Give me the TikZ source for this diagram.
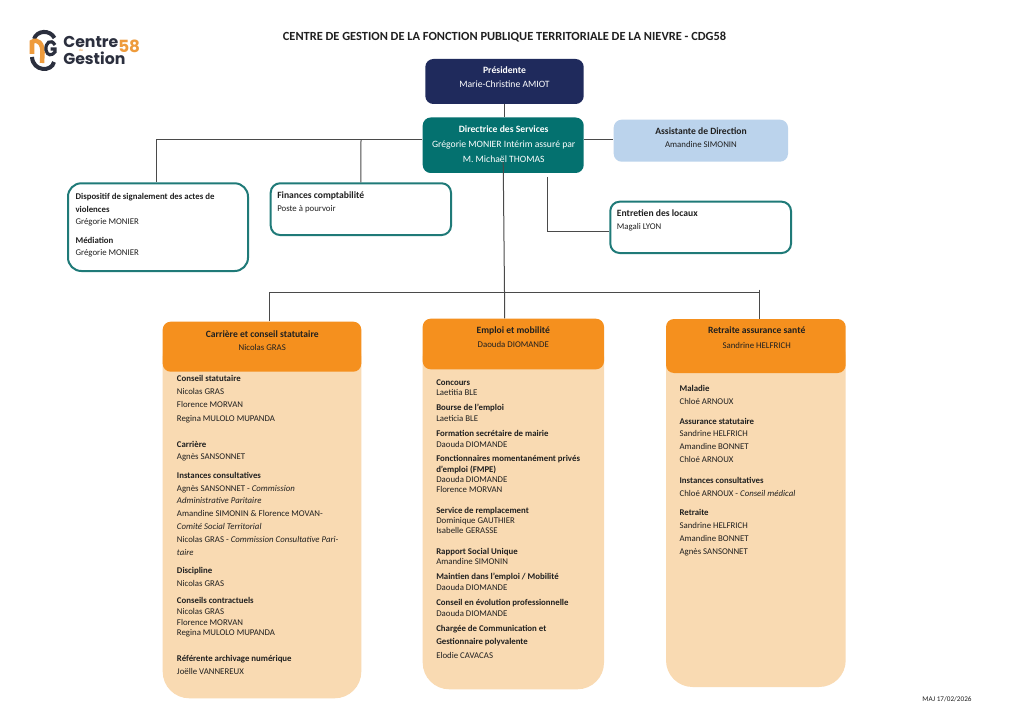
\documentclass[tikz,border=0pt]{standalone}
\usepackage{fontspec}
\setmainfont{Carlito}
\newfontfamily\logofont{Poppins}
\definecolor{navy}{HTML}{1F2A5C}
\definecolor{teal1}{HTML}{04716F}
\definecolor{tealline}{HTML}{1F7A78}
\definecolor{sky}{HTML}{BBD3EC}
\definecolor{orange1}{HTML}{F5901E}
\definecolor{peach}{HTML}{F9DAB2}
\definecolor{ink}{HTML}{202020}
\definecolor{wire}{HTML}{4A4A4A}
\definecolor{logoor}{HTML}{EE9B3C}
\definecolor{logonv}{HTML}{2B2F3E}
\newcounter{tn}
\tikzset{
  x=0.75pt,y=-0.75pt,
  px/.style={font=\fontsize{6.6pt}{8pt}\selectfont},
  lab/.style={inner sep=0pt,anchor=base west,text=ink,px},
  clab/.style={inner sep=0pt,anchor=base,px},
  wirel/.style={draw=wire,line width=0.75pt},
  solid box/.style={inner sep=0pt,draw=none},
  card/.style={inner sep=0pt,draw=tealline,line width=1.5pt,fill=white},
  logotext/.style={inner sep=0pt,anchor=base west,text=logonv,font=\fontsize{11.8pt}{12pt}\logofont\bfseries},
}
\newcommand\bighead{\fontsize{7.2pt}{8pt}\selectfont\bfseries}
\newcommand\wsz{\fontsize{7.25pt}{8pt}\selectfont}
% box: name, style, x1, y1, x2, y2
\newcommand\bx[6]{\node[#2,minimum width={(#5-#3)*0.75pt},minimum height={(#6-#4)*0.75pt}] (#1) at ({(#3+#5)/2},{(#4+#6)/2}) {};}
% left text line: x, y(centre), text
\newcommand\tl[3]{\stepcounter{tn}\node[lab] (l\arabic{tn}) at (#1,#2+3) {#3};}
\newcommand\tb[3]{\tl{#1}{#2}{\textbf{#3}}}
% centred line: colour, x, y, text
\newcommand\tc[4]{\stepcounter{tn}\node[clab,text=#1] (l\arabic{tn}) at (#2,#3+3) {#4};}
\begin{document}
\begin{tikzpicture}
\useasboundingbox (0,0) rectangle (1024,713);
\fill[white] (0,0) rectangle (1024,713);

% title
\node[inner sep=0pt,text=ink,font=\fontsize{9.3pt}{10pt}\selectfont\bfseries] (title) at (504.5,37.5) {CENTRE DE GESTION DE LA FONCTION PUBLIQUE TERRITORIALE DE LA NIEVRE - CDG58};
\node[inner sep=0pt,text=ink,font=\fontsize{5.4pt}{6pt}\selectfont] (maj) at (947,699.5) {MAJ 17/02/2026};

% logo
\draw[logonv,line width=3pt] (34,39) .. controls (37,30) and (50,29.5) .. (54.5,38);
\draw[logonv,line width=3pt] (32,57) .. controls (33,72) and (52,72) .. (54,62);
\draw[logoor,line width=3.4pt] (32,54) -- (32,42) .. controls (38,38) and (43,44) .. (42.5,53) -- (42,63);
\draw[logonv,line width=2.4pt] (55,45) .. controls (51,38) and (45,43) .. (46,50) .. controls (47,56) and (52,56) .. (55,52) -- (55,49) -- (50.5,49);
\node[logotext] (lg1) at (63,47.5) {Centre};
\node[logotext] (lg2) at (63,65) {Gestion};
\node[logotext,text=logoor,font=\fontsize{12.6pt}{13pt}\logofont\bfseries] (lg3) at (118,52.5) {58};
\node[inner sep=0pt,text=logoor,font=\fontsize{2.4pt}{3pt}\logofont] (lg4) at (81,50.7) {de};

% boxes
\bx{pres}{solid box,fill=navy,rounded corners=6pt}{425.3}{59}{583.7}{104}
\bx{dir}{solid box,fill=teal1,rounded corners=6pt}{422.7}{117.5}{583.7}{173}
\bx{assist}{solid box,fill=sky,rounded corners=6pt}{613.7}{119.7}{788}{161.7}
\bx{signal}{card,rounded corners=10pt}{68}{183.3}{248}{271}
\bx{fin}{card,rounded corners=7pt}{270.7}{183.3}{451}{235}
\bx{ent}{card,rounded corners=7pt}{610.3}{201.7}{791}{253}

\bx{b1}{solid box,fill=peach,rounded corners=20pt}{162.7}{330}{361.3}{698.3}
\bx{h1}{solid box,fill=orange1,rounded corners=6pt}{162.7}{321.7}{361.3}{371.7}
\bx{b2}{solid box,fill=peach,rounded corners=20pt}{422.7}{330}{604}{689.3}
\bx{h2}{solid box,fill=orange1,rounded corners=6pt}{422.7}{318.7}{604}{369.3}
\bx{b3}{solid box,fill=peach,rounded corners=20pt}{666}{330}{845.7}{687}
\bx{h3}{solid box,fill=orange1,rounded corners=6pt}{666}{319}{845.7}{373}

% connectors
\coordinate (busl) at (269,292);
\coordinate (busm) at (504.5,292);
\coordinate (busr) at (759.5,292);
\coordinate (busrt) at (759.5,289.5);
\coordinate (leftc) at (156,140);
\coordinate (finc) at (361,140);
\coordinate (entc) at (547.5,177);
\draw[wirel] (pres.south) -- (pres.south |- dir.north);
\draw[wirel] (dir.east |- 0,140) -- (assist.west |- 0,140);
\draw[wirel] (dir.west |- leftc) -- (leftc) -- (leftc |- signal.north);
\draw[wirel] (finc) -- (fin.north);
\draw[wirel] (entc) -- (entc |- 0,231) -- (ent.west |- 0,231);
\draw[wirel] (dir.south) ++(0,-12) -- (busm) -- (busm |- h2.north);
\draw[wirel] (h1.north -| busl) -- (busl) -- (busr);
\draw[wirel] (busrt) -- (h3.north -| busr);

% texts
\tc{white}{504.5}{71}{\wsz\textbf{Présidente}}
\tc{white}{504.5}{85}{\wsz Marie-Christine AMIOT}
\tc{white}{503.7}{130}{\wsz\textbf{Directrice des Services}}
\tc{white}{503.7}{144}{\wsz Grégorie MONIER Intérim assuré par}
\tc{white}{503.7}{159}{\wsz M. Michaël THOMAS}
\tc{ink}{701}{131.7}{\bighead Assistante de Direction}
\tc{ink}{701}{145}{Amandine SIMONIN}

\tb{75.3}{196.7}{Dispositif de signalement des actes de}
\tb{75.3}{209}{violences}
\tl{75.3}{221.7}{Grégorie MONIER}
\tb{75.3}{240.3}{Médiation}
\tl{75.3}{252.7}{Grégorie MONIER}
\tl{277}{195.3}{\bighead Finances comptabilité}
\tl{277}{208.7}{Poste à pourvoir}
\tl{616.7}{213}{\bighead Entretien des locaux}
\tl{616.7}{226.7}{Magali LYON}

\tc{ink}{262.3}{334}{\bighead Carrière et conseil statutaire}
\tc{ink}{262.3}{347.3}{Nicolas GRAS}
\tb{176.7}{378.7}{Conseil statutaire}
\tl{176.7}{391.7}{Nicolas GRAS}
\tl{176.7}{404.7}{Florence MORVAN}
\tl{176.7}{418}{Regina MULOLO MUPANDA}
\tb{176.7}{444}{Carrière}
\tl{176.7}{456.3}{Agnès SANSONNET}
\tb{176.7}{475}{Instances consultatives}
\tl{176.7}{488}{Agnès SANSONNET - \textit{Commission}}
\tl{176.7}{500.7}{\textit{Administrative Paritaire}}
\tl{176.7}{513.7}{Amandine SIMONIN \& Florence MOVAN-}
\tl{176.7}{526.7}{\textit{Comité Social Territorial}}
\tl{176.7}{539.7}{Nicolas GRAS - \textit{Commission Consultative Pari-}}
\tl{176.7}{552.7}{\textit{taire}}
\tb{176.7}{570.7}{Discipline}
\tl{176.7}{583.7}{Nicolas GRAS}
\tb{176.7}{600.7}{Conseils contractuels}
\tl{176.7}{611.7}{Nicolas GRAS}
\tl{176.7}{622}{Florence MORVAN}
\tl{176.7}{632.7}{Regina MULOLO MUPANDA}
\tb{176.7}{658}{Référente archivage numérique}
\tl{176.7}{671}{Joëlle VANNEREUX}

\tc{ink}{513.3}{330.7}{\bighead Emploi et mobilité}
\tc{ink}{513.3}{344.3}{Daouda DIOMANDE}
\tb{436}{382}{Concours}
\tl{436}{392.7}{Laetitia BLE}
\tb{436}{407.3}{Bourse de l’emploi}
\tl{436}{418}{Laeticia BLE}
\tb{436}{433.3}{Formation secrétaire de mairie}
\tl{436}{444}{Daouda DIOMANDE}
\tb{436}{458.7}{Fonctionnaires momentanément privés}
\tb{436}{469}{d’emploi (FMPE)}
\tl{436}{479}{Daouda DIOMANDE}
\tl{436}{489.7}{Florence MORVAN}
\tb{436}{510.3}{Service de remplacement}
\tl{436}{520}{Dominique GAUTHIER}
\tl{436}{530.7}{Isabelle GERASSE}
\tb{436}{551}{Rapport Social Unique}
\tl{436}{561.3}{Amandine SIMONIN}
\tb{436}{576.3}{Maintien dans l’emploi / Mobilité}
\tl{436}{587}{Daouda DIOMANDE}
\tb{436}{602.3}{Conseil en évolution professionnelle}
\tl{436}{613}{Daouda DIOMANDE}
\tb{436}{628.7}{Chargée de Communication et}
\tb{436}{641.7}{Gestionnaire polyvalente}
\tl{436}{655}{Elodie CAVACAS}

\tc{ink}{756.7}{330.7}{\bighead Retraite assurance santé}
\tc{ink}{756.7}{345.3}{Sandrine HELFRICH}
\tb{679.3}{388.3}{Maladie}
\tl{679.3}{401.3}{Chloé ARNOUX}
\tb{679.3}{421.3}{Assurance statutaire}
\tl{679.3}{433.3}{Sandrine HELFRICH}
\tl{679.3}{446.3}{Amandine BONNET}
\tl{679.3}{459.3}{Chloé ARNOUX}
\tb{679.3}{480}{Instances consultatives}
\tl{679.3}{493}{Chloé ARNOUX - \textit{Conseil médical}}
\tb{679.3}{512.7}{Retraite}
\tl{679.3}{525}{Sandrine  HELFRICH}
\tl{679.3}{538}{Amandine BONNET}
\tl{679.3}{551}{Agnès SANSONNET}
\end{tikzpicture}
\end{document}
